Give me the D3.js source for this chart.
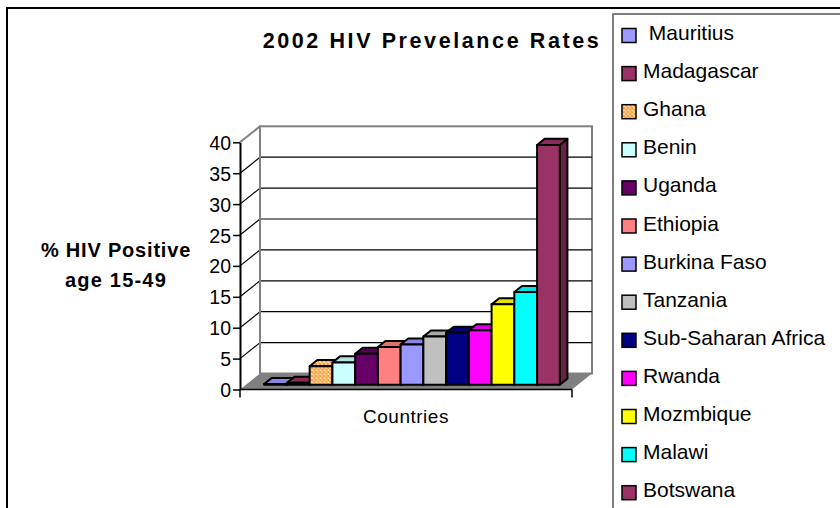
<!DOCTYPE html>
<html>
<head>
<meta charset="utf-8">
<script src="https://cdn.jsdelivr.net/npm/d3@7"></script>
<style>
  html, body { margin: 0; padding: 0; background: #fff; }
  text { font-family: Arial, "Liberation Sans", sans-serif; }
</style>
</head>
<body>
<div id="screen"></div>
<script>
// values (percent HIV positive, age 15-49)
const countries = [" Mauritius", "Madagascar", "Ghana", "Benin", "Uganda", "Ethiopia",
    "Burkina Faso", "Tanzania", "Sub-Saharan Africa", "Rwanda", "Mozmbique", "Malawi", "Botswana"];
const rates = [0.1, 0.3, 3.0, 3.6, 5.0, 6.1, 6.5, 7.8, 8.4, 8.8, 13.0, 15.0, 38.8];
const colors = ["#9999FF", "#993366", "#FFCC99", "#CCFFFF", "#660066", "#FF8080",
    "#9999FF", "#C0C0C0", "#000080", "#FF00FF", "#FFFF00", "#00FFFF", "#993366"];
const category = ["Countries"];
const yTicks = [0, 5, 10, 15, 20, 25, 30, 35, 40];

const W = 840, H = 508;
const depthX = 20, depthY = -16;   // offset of the back wall
const barD0 = 0.3, barD1 = 0.68;   // bars sit in this slice of the depth

const svg = d3.select("#screen").append("svg").attr("width", W).attr("height", H);

const defs = svg.append("defs");
const pat = defs.append("pattern").attr("id", "ghana")
    .attr("width", 4).attr("height", 4).attr("patternUnits", "userSpaceOnUse");
pat.append("rect").attr("width", 4).attr("height", 4).attr("fill", "#FFE0B8");
pat.append("path").attr("d", "M0,4 L4,0 M0,0 L4,4").attr("stroke", "#FF9933").attr("stroke-width", 1.1);

// outer chart frame
svg.append("path").attr("d", "M7,510 L7,8 L842,8")
    .attr("fill", "none").attr("stroke", "#000").attr("stroke-width", 2);

const y = d3.scaleLinear().domain([0, 40]).range([389.5, 142.3]);
const x0 = d3.scaleBand().domain(category).range([240, 572]);
const x1 = d3.scaleBand().domain(countries).range([0, x0.bandwidth()]).paddingOuter(0.8);

const g = svg.append("g");
const xl = x0.range()[0], xr = x0.range()[1];

// floor
g.append("polygon")
    .attr("points", [[xl, y(0)], [xr, y(0)], [xr + depthX, y(0) + depthY], [xl + depthX, y(0) + depthY]].join(" "))
    .attr("fill", "#808080");

// back wall
g.append("rect")
    .attr("x", xl + depthX).attr("y", y(40) + depthY)
    .attr("width", xr - xl).attr("height", y(0) - y(40))
    .attr("fill", "#fff").attr("stroke", "#808080").attr("stroke-width", 2);

// gridlines on back wall + side wall
yTicks.filter(t => t > 0 && t < 40).forEach(t => {
    g.append("line")
        .attr("x1", xl + depthX).attr("x2", xr + depthX)
        .attr("y1", y(t) + depthY).attr("y2", y(t) + depthY)
        .attr("stroke", "#000").attr("stroke-width", 1.2);
});
yTicks.filter(t => t > 0).forEach(t => {
    g.append("line")
        .attr("x1", xl).attr("y1", y(t))
        .attr("x2", xl + depthX).attr("y2", y(t) + depthY)
        .attr("stroke", t == 40 ? "#808080" : "#000").attr("stroke-width", t == 40 ? 2 : 1.2);
});
g.append("line")
    .attr("x1", xl + depthX).attr("x2", xl + depthX)
    .attr("y1", y(40) + depthY).attr("y2", y(0) + depthY)
    .attr("stroke", "#808080").attr("stroke-width", 2);

// bars, left to right so each front covers the previous side
countries.forEach((name, i) => {
    const c = colors[i];
    const front = name == "Ghana" ? "url(#ghana)" : c;
    const bx = x0("Countries") + x1(name), w = x1.bandwidth();
    const dx0 = depthX * barD0, dy0 = depthY * barD0;
    const dx1 = depthX * barD1, dy1 = depthY * barD1;
    const yt = y(rates[i]), yb = y(0);
    const bar = g.append("g").attr("stroke", "#000").attr("stroke-width", 2).attr("stroke-linejoin", "round");
    bar.append("polygon")
        .attr("points", [[bx + w + dx0, yt + dy0], [bx + w + dx1, yt + dy1], [bx + w + dx1, yb + dy1], [bx + w + dx0, yb + dy0]].join(" "))
        .attr("fill", d3.color(c).darker(1.1));
    bar.append("polygon")
        .attr("points", [[bx + dx0, yt + dy0], [bx + w + dx0, yt + dy0], [bx + w + dx1, yt + dy1], [bx + dx1, yt + dy1]].join(" "))
        .attr("fill", name == "Ghana" ? "url(#ghana)" : d3.color(c).darker(0.35));
    bar.append("rect")
        .attr("x", bx + dx0).attr("y", yt + dy0)
        .attr("width", w).attr("height", yb - yt)
        .attr("fill", front);
});

// value axis
const yAxis = svg.append("g").attr("transform", "translate(" + xl + ",0)")
    .call(d3.axisLeft(y).tickValues(yTicks).tickSize(7).tickSizeOuter(0));
yAxis.select(".domain").attr("stroke", "#000").attr("stroke-width", 2);
yAxis.selectAll(".tick line").attr("stroke", "#000").attr("stroke-width", 1.5);
yAxis.selectAll(".tick text").attr("x", -9).attr("dy", "0.36em")
    .style("font-size", "19.5px").attr("fill", "#000").style("font-family", "Arial, 'Liberation Sans', sans-serif");

// category axis
svg.append("line").attr("x1", xl).attr("x2", xr).attr("y1", y(0)).attr("y2", y(0))
    .attr("stroke", "#000").attr("stroke-width", 1.5);
[xl, xr].forEach(px => {
    svg.append("line").attr("x1", px).attr("x2", px).attr("y1", y(0)).attr("y2", y(0) + 8)
        .attr("stroke", "#000").attr("stroke-width", 1.5);
});
svg.append("text").text(category[0])
    .attr("x", 406).attr("y", 423).attr("text-anchor", "middle")
    .style("font-size", "19px").style("letter-spacing", "0.5px");

// titles
svg.append("text").text("2002 HIV Prevelance Rates")
    .attr("x", 432).attr("y", 48).attr("text-anchor", "middle")
    .style("font-size", "21.5px").style("font-weight", "bold").style("letter-spacing", "2.6px");
svg.append("text").text("% HIV Positive")
    .attr("x", 116).attr("y", 257).attr("text-anchor", "middle")
    .style("font-size", "20px").style("font-weight", "bold").style("letter-spacing", "0.8px");
svg.append("text").text("age 15-49")
    .attr("x", 116).attr("y", 287).attr("text-anchor", "middle")
    .style("font-size", "20px").style("font-weight", "bold").style("letter-spacing", "1.2px");

// legend
const legend = svg.append("g");
legend.append("rect").attr("x", 613).attr("y", 14).attr("width", 260).attr("height", 520)
    .attr("fill", "#fff").attr("stroke", "#808080").attr("stroke-width", 2);
countries.forEach((name, i) => {
    const cy = 35.5 + i * 38.1;
    legend.append("rect").attr("x", 622).attr("y", cy - 7).attr("width", 14).attr("height", 14)
        .attr("fill", name == "Ghana" ? "url(#ghana)" : colors[i])
        .attr("stroke", "#000").attr("stroke-width", 1.5);
    legend.append("text").text(name)
        .attr("x", 643).attr("y", cy + 4.5)
        .style("white-space", "pre")
        .style("font-size", "21px").style("letter-spacing", "0px");
});
</script>
</body>
</html>
